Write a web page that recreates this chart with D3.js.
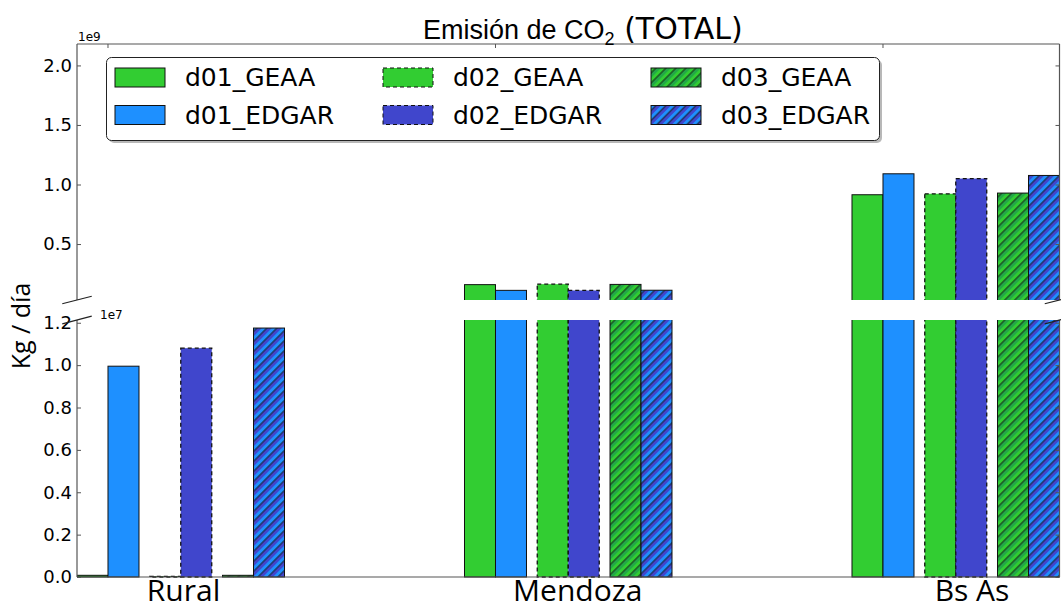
<!DOCTYPE html>
<html>
<head>
<meta charset="utf-8">
<script src="https://cdn.jsdelivr.net/npm/d3@7"></script>
<style>
  body { margin: 0; background: #fff; }
  text { font-family: "DejaVu Sans", sans-serif; }
</style>
</head>
<body>
<div id="chart"></div>
<script>
// data (kg / dia)
var categories = ["Rural", "Mendoza", "Bs As"];
var domains = ["d01", "d02", "d03"];
var seriesNames = ["d01_GEAA", "d01_EDGAR", "d02_GEAA", "d02_EDGAR", "d03_GEAA", "d03_EDGAR"];
var d01_GEAA  = [0.008e7, 0.159e9, 0.914e9];
var d01_EDGAR = [0.995e7, 0.111e9, 1.090e9];
var d02_GEAA  = [0.003e7, 0.163e9, 0.922e9];
var d02_EDGAR = [1.080e7, 0.110e9, 1.050e9];
var d03_GEAA  = [0.008e7, 0.161e9, 0.928e9];
var d03_EDGAR = [1.175e7, 0.112e9, 1.076e9];
var topTicks = [0.5e9, 1.0e9, 1.5e9, 2.0e9];
var bottomTicks = [0, 0.2e7, 0.4e7, 0.6e7, 0.8e7, 1.0e7, 1.2e7];

var seriesValues = [d01_GEAA, d01_EDGAR, d02_GEAA, d02_EDGAR, d03_GEAA, d03_EDGAR];

// styles per series
var styles = {
  d01_GEAA:  { fill: "#32CD32", dash: null },
  d01_EDGAR: { fill: "#1E90FF", dash: null },
  d02_GEAA:  { fill: "#32CD32", dash: "4,3" },
  d02_EDGAR: { fill: "#4046CC", dash: "4,3" },
  d03_GEAA:  { fill: "url(#hatchGreen)", dash: null },
  d03_EDGAR: { fill: "url(#hatchBlue)", dash: null }
};

var W = 1061, H = 611;
var left = 77, right = 1059.5;
var topY0 = 44, topY1 = 300, botY0 = 320, botY1 = 577;

var svg = d3.select("#chart").append("svg")
    .attr("width", W)
    .attr("height", H);

// hatch patterns
var defs = svg.append("defs");
function hatch(id, light, dark) {
  var p = defs.append("pattern")
      .attr("id", id)
      .attr("patternUnits", "userSpaceOnUse")
      .attr("width", 7.07).attr("height", 7.07)
      .attr("patternTransform", "rotate(45)");
  p.append("rect").attr("width", 7.07).attr("height", 7.07).attr("fill", light);
  p.append("rect").attr("x", 3.53).attr("width", 3.54).attr("height", 7.07).attr("fill", dark);
  p.append("line").attr("x1", 3.53).attr("x2", 3.53).attr("y1", 0).attr("y2", 7.07)
      .attr("stroke", "#111").attr("stroke-width", 0.9);
}
hatch("hatchGreen", "#32CD32", "#22A846");
hatch("hatchBlue", "#1E90FF", "#4046CC");

defs.append("clipPath").attr("id", "clipTop")
  .append("rect").attr("x", left).attr("y", topY0).attr("width", right - left).attr("height", topY1 - topY0);
defs.append("clipPath").attr("id", "clipBot")
  .append("rect").attr("x", left).attr("y", botY0).attr("width", right - left).attr("height", botY1 - botY0 + 1);

// scales
var x0 = d3.scaleBand()
    .domain(categories)
    .range([left, right])
    .paddingInner(0.4645)
    .paddingOuter(0);
var xPair = d3.scaleBand()
    .domain(domains)
    .range([0, x0.bandwidth()])
    .paddingInner(0.148);
var barW = xPair.bandwidth() / 2;

var yTop = d3.scaleLinear().domain([0.03e9, 2.18e9]).range([topY1, topY0]);
var yBot = d3.scaleLinear().domain([0, 1.213e7]).range([botY1, botY0]);

// flat list of bars
var bars = [];
seriesNames.forEach(function (s, si) {
  categories.forEach(function (c, ci) {
    bars.push({ series: s, cat: c, value: seriesValues[si][ci],
                dom: domains[Math.floor(si / 2)], sub: si % 2 });
  });
});

function barX(d) { return x0(d.cat) + xPair(d.dom) + d.sub * barW; }

function drawBars(g, y, y1) {
  g.selectAll("rect.bar")
    .data(bars)
    .enter().append("rect")
    .attr("class", "bar")
    .attr("x", barX)
    .attr("width", barW)
    .attr("y", function (d) { return y(d.value); })
    .attr("height", function (d) { return Math.max(0, y1 - y(d.value)); })
    .attr("fill", function (d) { return styles[d.series].fill; })
    .attr("stroke", "#111")
    .attr("stroke-width", function (d) { return styles[d.series].dash ? 1.3 : 1; })
    .attr("stroke-dasharray", function (d) { return styles[d.series].dash; });
}

var gTop = svg.append("g").attr("clip-path", "url(#clipTop)");
drawBars(gTop, yTop, topY1 + 5);
var gBot = svg.append("g").attr("clip-path", "url(#clipBot)");
drawBars(gBot, yBot, botY1);

// spines
var spineColor = "#555";
function spine(x1, y1, x2, y2) {
  svg.append("line").attr("x1", x1).attr("y1", y1).attr("x2", x2).attr("y2", y2)
    .attr("stroke", spineColor).attr("stroke-width", 1.2);
}
spine(left, topY0, right, topY0);
spine(left, topY0, left, topY1);
spine(right, topY0, right, topY1);
spine(left, botY0, left, botY1);
spine(right, botY0, right, botY1);
spine(left, botY1, right, botY1);

// y axes
function styleAxis(g) {
  g.select(".domain").remove();
  g.selectAll(".tick line").attr("stroke", spineColor);
  g.selectAll(".tick text")
    .attr("font-family", "DejaVu Sans")
    .attr("font-size", 18)
    .attr("fill", "#000");
}
svg.append("g")
  .attr("transform", "translate(" + left + ",0)")
  .call(d3.axisLeft(yTop).tickValues(topTicks).tickSize(-4).tickPadding(5)
        .tickFormat(function (v) { return (v / 1e9).toFixed(1); }))
  .call(styleAxis);
svg.append("g")
  .attr("transform", "translate(" + right + ",0)")
  .call(d3.axisRight(yTop).tickValues(topTicks).tickSize(-4).tickFormat(""))
  .call(styleAxis);
svg.append("g")
  .attr("transform", "translate(" + left + ",0)")
  .call(d3.axisLeft(yBot).tickValues(bottomTicks).tickSize(-4).tickPadding(5)
        .tickFormat(function (v) { return (v / 1e7).toFixed(1); }))
  .call(styleAxis);
svg.append("g")
  .attr("transform", "translate(" + right + ",0)")
  .call(d3.axisRight(yBot).tickValues(bottomTicks).tickSize(-4).tickFormat(""))
  .call(styleAxis);

// x ticks on the top spine
svg.selectAll("line.xtick")
  .data(categories)
  .enter().append("line")
  .attr("class", "xtick")
  .attr("x1", function (c) { return x0(c) + barW; })
  .attr("x2", function (c) { return x0(c) + barW; })
  .attr("y1", topY0).attr("y2", topY0 + 4)
  .attr("stroke", spineColor);

// offset texts
svg.append("text").attr("x", 78).attr("y", 41).attr("font-size", 12).text("1e9");
svg.append("text").attr("x", 100).attr("y", 319).attr("font-size", 12).text("1e7");

// break marks
var dx = 0.015 * (right - left), dyT = 0.015 * (topY1 - topY0), dyB = 0.015 * (botY1 - botY0);
[[left, topY1, dyT], [right, topY1, dyT], [left, botY0, dyB], [right, botY0, dyB]].forEach(function (b) {
  svg.append("line")
    .attr("x1", b[0] - dx).attr("y1", b[1] + b[2])
    .attr("x2", b[0] + dx).attr("y2", b[1] - b[2])
    .attr("stroke", "#222").attr("stroke-width", 1.1);
});

// category labels
var labelX = d3.scaleLinear().domain([0, categories.length - 1]).range([183.5, 972]);
svg.selectAll("text.cat")
  .data(categories)
  .enter().append("text")
  .attr("class", "cat")
  .attr("x", function (c, i) { return labelX(i); })
  .attr("y", 601)
  .attr("text-anchor", "middle")
  .style("font-family", "'Open Sans'")
  .attr("font-size", 30)
  .text(function (c) { return c; });

// y label
svg.append("text")
  .attr("transform", "translate(30,326) rotate(-90)")
  .attr("text-anchor", "middle")
  .style("font-family", "'Open Sans'")
  .attr("font-size", 25)
  .text("Kg / día");

// title
var title = svg.append("text").attr("x", 423).attr("y", 39);
title.append("tspan").style("font-family", "'Liberation Sans'").attr("font-size", 27).text("Emisión de CO");
title.append("tspan").style("font-family", "'Liberation Sans'").attr("font-size", 18).attr("dy", 6).text("2");
title.append("tspan").style("font-family", "'DejaVu Sans'").attr("font-size", 30).attr("dy", -6).text(" (TOTAL)");

// legend
var lg = svg.append("g");
lg.append("rect").attr("x", 109).attr("y", 60).attr("width", 773).attr("height", 83)
  .attr("rx", 5).attr("fill", "#888").attr("opacity", 0.6);
lg.append("rect").attr("x", 106.5).attr("y", 57.5).attr("width", 773).attr("height", 83)
  .attr("rx", 5).attr("fill", "#fff").attr("stroke", "#222").attr("stroke-width", 1);

var items = lg.selectAll("g.item")
  .data(seriesNames)
  .enter().append("g")
  .attr("class", "item")
  .attr("transform", function (s, i) {
    return "translate(" + (115 + Math.floor(i / 2) * 268) + "," + (68 + (i % 2) * 37.5) + ")";
  });
items.append("rect")
  .attr("width", 50).attr("height", 19)
  .attr("fill", function (s) { return styles[s].fill; })
  .attr("stroke", "#111")
  .attr("stroke-dasharray", function (s) { return styles[s].dash; });
items.append("text")
  .attr("x", 70).attr("y", 18)
  .attr("font-size", 25)
  .text(function (s) { return s; });
</script>
</body>
</html>
